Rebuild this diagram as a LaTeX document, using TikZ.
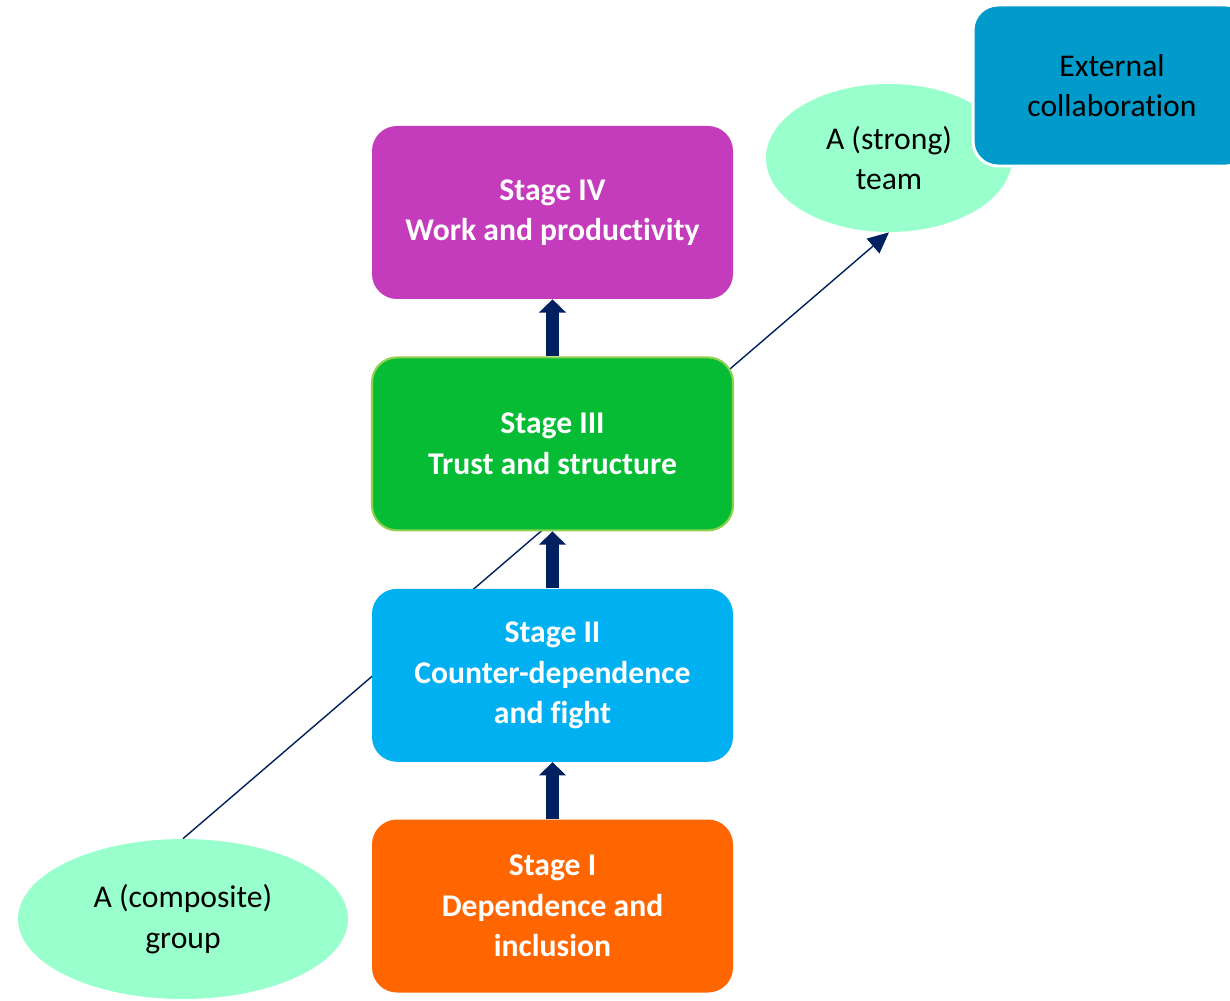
\documentclass[tikz,border=0pt]{standalone}
\usepackage{fontspec}
\setmainfont{Carlito}[Ligatures=CommonOff]
\usetikzlibrary{positioning, arrows.meta, shapes.geometric, backgrounds}

\definecolor{stagefour}{HTML}{C43CBC}
\definecolor{stagethree}{HTML}{05BC34}
\definecolor{stagethreeline}{HTML}{92D050}
\definecolor{stagetwo}{HTML}{00B0F0}
\definecolor{stageone}{HTML}{FF6600}
\definecolor{mint}{HTML}{99FFCC}
\definecolor{extblue}{HTML}{009BCB}
\definecolor{navy}{HTML}{002060}

\begin{document}
\begin{tikzpicture}[
        node distance=1.14cm,
        stagebox/.style={rectangle, rounded corners=0.5cm, minimum width=7.22cm, minimum height=3.46cm, align=center, text=white, font=\fontsize{18}{23}\selectfont\bfseries},
        blob/.style={ellipse, fill=mint, inner sep=0pt, align=center, font=\fontsize{18}{23}\selectfont},
        extbox/.style={rectangle, rounded corners=0.5cm, fill=extblue, draw=white, line width=1.7pt, minimum width=5.56cm, minimum height=3.22cm, align=center, font=\fontsize{18}{23}\selectfont},
        uparrow/.style={-{Triangle[width=15pt, length=7.5pt]}, line width=7.4pt, draw=navy},
        flowline/.style={-{Triangle[width=11pt, length=12pt]}, line width=0.8pt, draw=navy}
    ]
        \useasboundingbox (0,0) rectangle (24.6,-20);
        \clip (0,0) rectangle (24.6,-20);

        % --- STAGES ---
        \node[stagebox, fill=stageone] (stageone) at (11.05,-18.12) {Stage I\\Dependence and\\inclusion};
        \node[stagebox, fill=stagetwo, above=of stageone] (stagetwo) {Stage II\\Counter-dependence\\and fight};
        \node[stagebox, fill=stagethree, draw=stagethreeline, line width=1.2pt, above=of stagetwo] (stagethree) {Stage III\\Trust and structure};
        \node[stagebox, fill=stagefour, above=of stagethree] (stagefour) {Stage IV\\Work and productivity};

        % --- GROUP / TEAM ---
        \node[blob, minimum width=6.6cm, minimum height=3.2cm] (group) at (3.66,-18.38) {A (composite)\\group};
        \node[blob, minimum width=4.92cm, minimum height=2.96cm] (team) at (17.78,-3.16) {A (strong)\\team};
        \node[extbox] (external) at (22.24,-1.71) {External\\collaboration};

        % --- CONNECTIONS ---
        \draw[uparrow] (stageone) -- (stagetwo);
        \draw[uparrow] (stagetwo) -- (stagethree);
        \draw[uparrow] (stagethree) -- (stagefour);

        \begin{scope}[on background layer]
            \draw[flowline] (group.north) -- (team.south);
        \end{scope}

    \end{tikzpicture}
\end{document}
